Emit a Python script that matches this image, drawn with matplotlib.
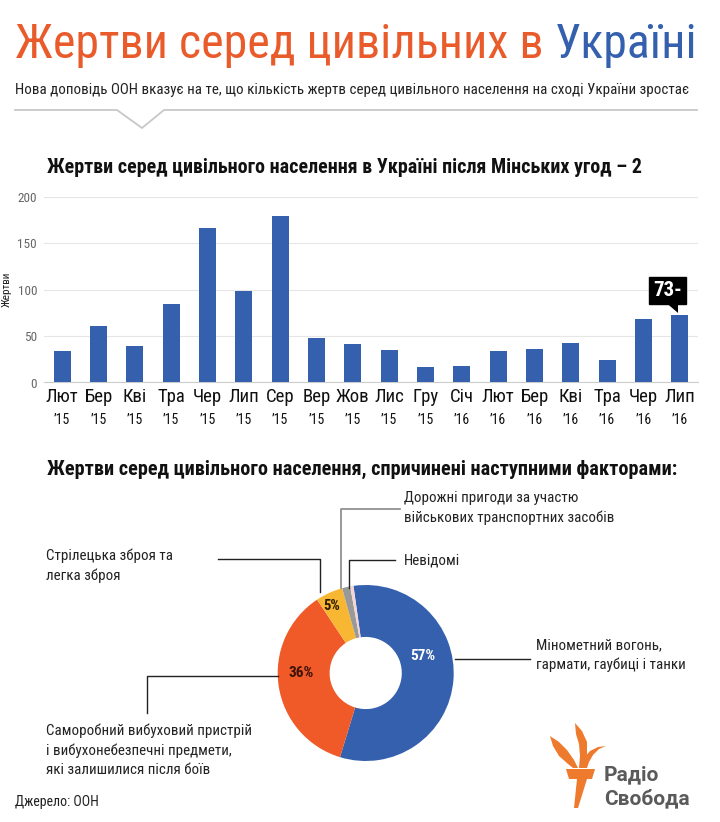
import numpy as np
import matplotlib
matplotlib.use("Agg")
import matplotlib.pyplot as plt
from matplotlib import font_manager as fm
from matplotlib.patches import Polygon

# ---- data ----
months = ["Лют", "Бер", "Кві", "Тра", "Чер", "Лип", "Сер", "Вер", "Жов",
          "Лис", "Гру", "Січ", "Лют", "Бер", "Кві", "Тра", "Чер", "Лип"]
years = ["’15"] * 11 + ["’16"] * 7
victims = [34, 61, 39, 85, 167, 99, 180, 48, 41, 35, 17, 18, 34, 36, 43, 24, 69, 73]
y_ticks = [0, 50, 100, 150, 200]

causes = ["Мінометний вогонь,\nгармати, гаубиці і танки",
          "Саморобний вибуховий пристрій\nі вибухонебезпечні предмети,\nякі залишилися після боїв",
          "Стрілецька зброя та\nлегка зброя",
          "Дорожні пригоди за участю\nвійськових транспортних засобів",
          "Невідомі"]
shares = [57, 36, 5, 1.5, 0.6]
share_labels = ["57%", "36%", "5%"]

BLUE = "#3560ad"
ORANGE = "#e95b2b"
PIE_COLORS = [BLUE, "#f05a28", "#f8b733", "#999999", "#f3d6d3"]
W, H = 720, 822


def pick(names):
    for n in names:
        try:
            fm.findfont(fm.FontProperties(family=n), fallback_to_default=False)
            return n
        except Exception:
            pass
    return "DejaVu Sans"


COND = pick(["Roboto Condensed", "Liberation Sans Narrow", "DejaVu Sans Condensed", "Roboto"])
plt.rcParams["font.family"] = [COND, "DejaVu Sans"]

fig = plt.figure(figsize=(W / 100, H / 100), dpi=100)


def px_axes(x0, y0, x1, y1):
    # axes from pixel box (top-left origin)
    return fig.add_axes([x0 / W, 1 - y1 / H, (x1 - x0) / W, (y1 - y0) / H])


# ---- bar chart ----
ax = px_axes(44, 197, 698, 382.5)
x = np.arange(len(victims))
ax.bar(x, victims, width=0.47, color=BLUE, zorder=3)
ax.set_xlim(-0.5, len(victims) - 0.5)
ax.set_ylim(0, 200)
ax.set_yticks(y_ticks)
ax.set_yticklabels([str(t) for t in y_ticks], color="#666666", fontsize=9.5)
ax.grid(axis="y", color="#e6e6e6", lw=0.8, zorder=0)
ax.tick_params(axis="y", length=0, pad=5)
ax.tick_params(axis="x", length=0, pad=4)
ax.set_xticks(x)
ax.set_xticklabels(months, fontsize=13.5, color="#111111")
for s in ["top", "right", "left"]:
    ax.spines[s].set_visible(False)
ax.spines["bottom"].set_color("#cccccc")
for xi, yr in zip(x, years):
    ax.text(xi, -40, yr, ha="center", va="center", fontsize=10, color="#111111",
            transform=ax.transData, clip_on=False)
ax.set_ylabel("Жертви", fontsize=8, color="#222222")
ax.yaxis.set_label_coords(-0.049, 0.5)

# callout for last bar
last = len(victims) - 1
ax.annotate(f"{victims[last]}-", xy=(last, victims[last]), xytext=(last - 0.33, victims[last] + 26),
            ha="center", va="center", fontsize=15, fontweight="bold", color="white",
            bbox=dict(boxstyle="square,pad=0.2", fc="black", ec="black"), zorder=5)
ax.add_patch(Polygon([[last - 0.05, victims[last] + 12], [last - 0.35, victims[last] + 12],
                      [last - 0.05, victims[last] + 2]], closed=True, fc="black", ec="none",
                     zorder=5, clip_on=False))

# ---- donut ----
cx, cy, r = 365.7, 673, 88
pax = px_axes(cx - r, cy - r, cx + r, cy + r)
wedges, _ = pax.pie(shares, colors=PIE_COLORS, startangle=98, counterclock=False,
                    radius=1, wedgeprops=dict(width=0.59, edgecolor="none"))
pax.set_xlim(-1, 1)
pax.set_ylim(-1, 1)
label_pos = [(0.68, 17), (0.73, 180), (0.85, 117)]
label_col = ["white", "#3b1208", "#2b1a00"]
label_fs = [11, 11, 10.5]
for lab, (rr, ang), c, fs in zip(share_labels, label_pos, label_col, label_fs):
    a = np.radians(ang)
    pax.text(rr * np.cos(a), rr * np.sin(a), lab, ha="center", va="center",
             fontsize=fs, fontweight="bold", color=c)

# ---- overlay (pixel coordinates) ----
ov = fig.add_axes([0, 0, 1, 1])
ov.set_xlim(0, W)
ov.set_ylim(H, 0)
ov.axis("off")
ov.patch.set_alpha(0)

# title
t1 = ov.text(15, 58, "Жертви серед цивільних в ", fontsize=34.5, color=ORANGE, va="baseline")
ov.annotate("Україні", xy=(1, 0), xycoords=t1, fontsize=34.5, color=BLUE, va="bottom", ha="left")

ov.text(15, 94, "Нова доповідь ООН вказує на те, що кількість жертв серед цивільного населення на сході України зростає",
        fontsize=10.8, color="#222222", va="baseline")
ov.plot([15, 117, 142, 164, 697], [110, 110, 128, 110, 110], color="#c8c8c8", lw=1.3)

ov.text(47, 173, "Жертви серед цивільного населення в Україні після Мінських угод – 2",
        fontsize=14.4, fontweight="bold", color="#111111", va="baseline")
ov.text(47, 475, "Жертви серед цивільного населення, спричинені наступними факторами:",
        fontsize=14.6, fontweight="bold", color="#111111", va="baseline")

# leader lines
lc = "#222222"
ov.plot([455, 530], [659, 659], color=lc, lw=1)
ov.text(536, 655, causes[0], fontsize=10.8, color="#222222", va="center", linespacing=1.45)
ov.plot([278, 147, 147], [676, 676, 713], color=lc, lw=1)
ov.text(46, 750, causes[1], fontsize=10.8, color="#222222", va="center", linespacing=1.45)
ov.plot([320, 320, 218], [592, 559, 559], color=lc, lw=1)
ov.text(46, 566, causes[2], fontsize=10.8, color="#222222", va="center", linespacing=1.45)
ov.plot([341, 341, 400], [588, 509, 509], color="#888888", lw=1.2)
ov.text(404, 508, causes[3], fontsize=10.8, color="#222222", va="center", linespacing=1.45)
ov.plot([349, 349, 395], [588, 560, 560], color=lc, lw=1)
ov.text(404, 560, causes[4], fontsize=10.8, color="#222222", va="center")

ov.text(15, 802, "Джерело: ООН", fontsize=10, color="#222222", va="center")

# logo (torch)
LOGO = "#ee7a2e"
shapes = [
    # cup + handle
    [[566, 769], [595, 769], [592, 779], [587, 779], [578, 808], [574, 808], [577, 779], [569, 779]],
    # left flame
    [[550, 736], [553, 746], [559, 756], [568, 764], [573, 768], [578, 768], [574, 760], [567, 750], [559, 742]],
    # tall middle flame
    [[575, 723], [582, 731], [587, 742], [587, 754], [585, 768], [579, 768], [580, 756], [579, 744], [576, 734]],
    # right flame
    [[606, 746], [599, 749], [593, 755], [589, 762], [587, 768], [582, 768], [584, 758], [590, 751], [598, 747]],
]
for s in shapes:
    ov.add_patch(Polygon(s, closed=True, fc=LOGO, ec="none"))
ov.text(604, 780, "Радіо", fontsize=15, fontweight="bold", color="#5a5a5a", va="baseline",
        family=["Roboto", "DejaVu Sans"])
ov.text(604, 804, "Свобода", fontsize=15, fontweight="bold", color="#5a5a5a", va="baseline",
        family=["Roboto", "DejaVu Sans"])

fig.savefig("out.png", dpi=100, facecolor="white")
